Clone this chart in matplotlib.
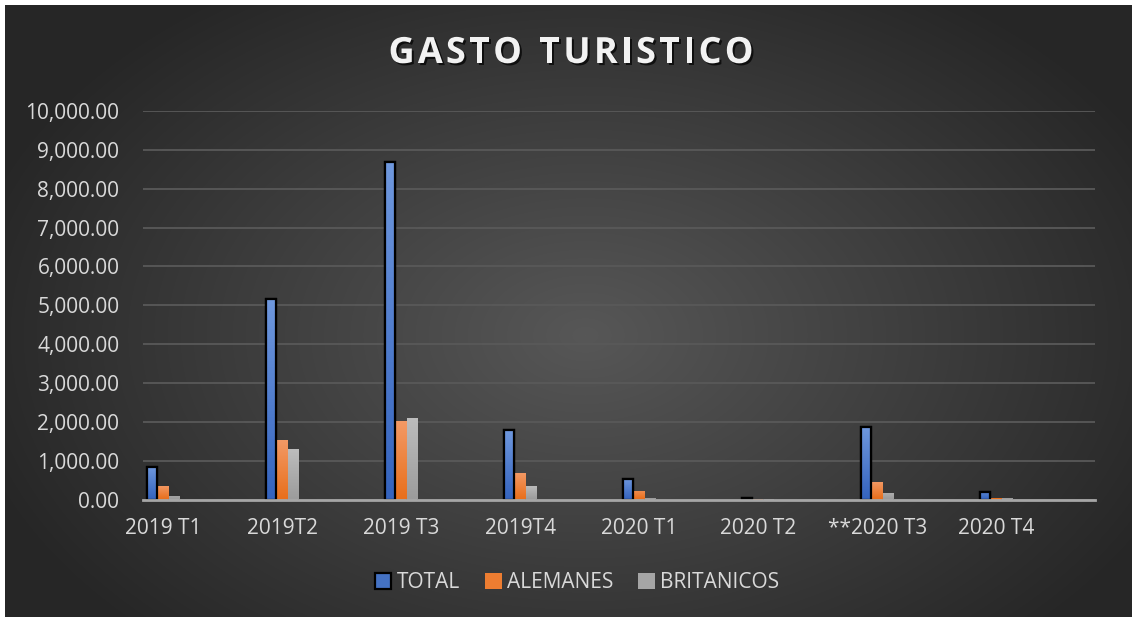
import numpy as np
import matplotlib
matplotlib.use("Agg")
import matplotlib.pyplot as plt
import matplotlib.patheffects as pe
from matplotlib.colors import LinearSegmentedColormap

categories = ["2019 T1", "2019T2", "2019 T3", "2019T4", "2020 T1", "2020 T2", "**2020 T3", "2020 T4"]
total = [830, 5150, 8690, 1800, 525, 45, 1870, 200]
alemanes = [360, 1520, 2010, 680, 215, 20, 445, 50]
britanicos = [80, 1290, 2110, 360, 30, 5, 180, 30]
series_names = ["TOTAL", "ALEMANES", "BRITANICOS"]
yticks = list(range(0, 10001, 1000))
title = "GASTO TURISTICO"

plt.rcParams['font.family'] = ['Open Sans', 'DejaVu Sans']
W, H = 1132, 617
fig = plt.figure(figsize=(W / 100, H / 100), dpi=100)
fig.patch.set_facecolor("white")

# background radial gradient panel
bg = fig.add_axes([5 / W, 0, 1 - 5 / W, 1 - 5 / H])
bg.set_axis_off()
yy, xx = np.mgrid[0:612, 0:1127]
cx, cy = 580, 330
r = np.sqrt(((xx - cx) / 640) ** 2 + ((yy - cy) / 420) ** 2)
r = np.clip(r, 0, 1)
inner = np.array([0x57, 0x57, 0x57]) / 255
outer = np.array([0x26, 0x26, 0x26]) / 255
img = inner[None, None, :] * (1 - r[..., None]) + outer[None, None, :] * r[..., None]
bg.imshow(img, aspect='auto', extent=[0, 1, 0, 1], origin='upper')
bg.set_xlim(0, 1)
bg.set_ylim(0, 1)

ax = fig.add_axes([143 / W, 1 - 499.5 / H, (1095 - 143) / W, (499.5 - 111) / H])
ax.patch.set_alpha(0)
ax.set_ylim(0, 10000)
ax.set_xlim(-0.168, 7.83)

x = np.arange(len(categories))
pitch = 0.0935
bw = 0.086
cols_top = ["#6f98de", "#f39a66", "#bdbdbd"]
cols_bot = ["#3564be", "#e86f1c", "#9c9c9c"]
base = ["#4472C4", "#ED7D31", "#A5A5A5"]
data = [total, alemanes, britanicos]
handles = []
for k, vals in enumerate(data):
    xs = x + (k - 1) * pitch
    bars = ax.bar(xs, vals, width=bw, color=base[k],
                  edgecolor="black" if k == 0 else "none",
                  linewidth=1.6 if k == 0 else 0, zorder=3, label=series_names[k])
    handles.append(bars)
    cmap = LinearSegmentedColormap.from_list("g%d" % k, [cols_bot[k], cols_top[k]])
    grad = np.linspace(0, 1, 64)[:, None]
    for b in bars:
        if b.get_height() <= 0:
            continue
        x0 = b.get_x(); h = b.get_height()
        im = ax.imshow(grad, cmap=cmap, aspect='auto', origin='lower',
                       extent=[x0, x0 + bw, 0, max(h, 300)], zorder=3.5)
        im.set_clip_path(b)
        if k == 0:
            ax.bar(x0 + bw / 2, h, width=bw, color="none", edgecolor="black",
                   linewidth=1.6, zorder=4)

ax.set_yticks(yticks)
ax.set_yticklabels(["{:,.2f}".format(v) for v in yticks])
ax.set_xticks(x)
ax.set_xticklabels(categories)
ax.tick_params(axis='both', length=0, colors="#d9d9d9", labelsize=15)
ax.tick_params(axis='y', pad=17)
ax.tick_params(axis='x', pad=13)
ax.grid(axis='y', color="#595959", linewidth=1.3, zorder=0)
for s in ["top", "right", "left"]:
    ax.spines[s].set_visible(False)
ax.spines["bottom"].set_color("#a6a6a6")
ax.spines["bottom"].set_linewidth(2)
ax.spines["bottom"].set_zorder(5)

# letter-spaced title
renderer = fig.canvas.get_renderer()
tkw = dict(fontsize=26, fontweight='bold', color="#f2f2f2", va='center', ha='left',
           path_effects=[pe.SimplePatchShadow(offset=(1.5, -1.5), shadow_rgbFace='black', alpha=0.7),
                         pe.Normal()])
extra = 3.2  # px between letters
widths = []
for ch in title:
    t = fig.text(0, 0, ch if ch != " " else "I", **tkw)
    w = t.get_window_extent(renderer).width
    if ch == " ":
        w *= 0.9
    widths.append(w)
    t.remove()
total_w = sum(widths) + extra * (len(title) - 1)
xpos = 571 - total_w / 2
for ch, w in zip(title, widths):
    if ch != " ":
        fig.text(xpos / W, 1 - 54 / H, ch, **tkw)
    xpos += w + extra

leg = fig.legend(handles=handles, labels=series_names, loc='center',
                 bbox_to_anchor=(577 / W, 1 - 583 / H), ncol=3, frameon=False,
                 fontsize=15, handlelength=0.8, handleheight=0.8,
                 handletextpad=0.25, columnspacing=1.2, labelcolor="#d9d9d9")

fig.savefig("out.png", dpi=100, facecolor=fig.get_facecolor())
